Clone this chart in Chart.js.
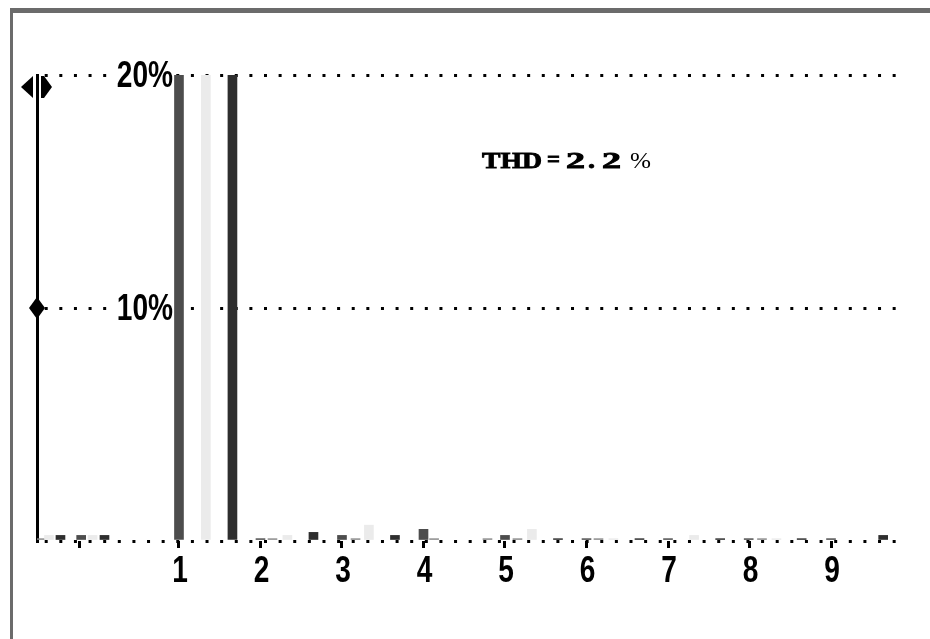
<!DOCTYPE html>
<html>
<head>
<meta charset="utf-8">
<style>
  html, body { margin: 0; padding: 0; background: #fff; }
  #wrap { position: relative; width: 930px; height: 639px; }
  canvas { display: block; }
</style>
<script src="https://cdn.jsdelivr.net/npm/chart.js@4/dist/chart.umd.min.js"></script>
</head>
<body>
<div id="wrap"><canvas id="spectrum" width="930" height="639"></canvas></div>
<script>
// Harmonic axis: tick positions (harmonic order) and their labels
const tickValues = [-0.215, 1, 2, 3, 4, 5, 6, 7, 8, 9];
const tickLabels = ['', '1', '2', '3', '4', '5', '6', '7', '8', '9'];

// Level axis: gridline values (% of fundamental) and their labels
const levelTicks = [0, 10, 20];
const levelLabels = ['', '10%', '20%'];

// Phase L1 (dark grey): position in harmonic order, level in %
const l1Pos = [-0.20, 1.00, 2.00, 3.00, 4.00, 5.00, 6.00, 7.00, 7.99, 9.00];
const l1Val = [0.24, 100, 0.10, 0.24, 0.50, 0.24, 0.10, 0.10, 0.10, 0.10];

// Phase L2 (light grey)
const l2Pos = [-0.595, -0.06, 1.33, 2.33, 3.33, 5.33, 6.33, 7.32, 8.33];
const l2Val = [0.24, 0.24, 100, 0.24, 0.68, 0.50, 0.10, 0.24, 0.10];

// Phase L3 (black)
const l3Pos = [-0.454, 0.086, 1.656, 2.65, 3.65, 5.65, 6.65, 7.64, 8.64, 9.64];
const l3Val = [0.24, 0.24, 100, 0.37, 0.24, 0.10, 0.10, 0.10, 0.10, 0.24];

// Neutral (mid grey)
const nPos = [-0.70, 2.147, 3.166, 4.13, 4.785, 5.153, 6.147, 8.153];
const nVal = [0.10, 0.10, 0.10, 0.10, 0.10, 0.10, 0.10, 0.10];

// Total harmonic distortion readout
const thdValue = '2.2';

const sansBold = 'bold 36px "Liberation Sans", Arimo, "DejaVu Sans", sans-serif';
const serifBold = 'bold 24px "Liberation Serif", "DejaVu Serif", serif';
const serifReg = '24px "Liberation Serif", "DejaVu Serif", serif';
const condense = 0.78;

function points(xs, ys) {
  return xs.map((x, i) => ({ x: x, y: ys[i] }));
}

// Frame lines around the display
const framePlugin = {
  id: 'frame',
  beforeDraw(chart) {
    const ctx = chart.ctx;
    ctx.save();
    ctx.fillStyle = '#ffffff';
    ctx.fillRect(0, 0, chart.width, chart.height);
    ctx.fillStyle = '#6b6b6b';
    ctx.fillRect(10, 8, chart.width - 10, 5);
    ctx.fillRect(10, 8, 3, chart.height - 8);
    ctx.restore();
  }
};

// Text stretched horizontally into a given width (optionally emboldened)
function fitText(ctx, text, x, baseline, width, font, heavy) {
  ctx.save();
  ctx.font = font;
  const w = ctx.measureText(text).width;
  ctx.translate(x, baseline);
  ctx.scale(width / w, 1);
  ctx.textAlign = 'left';
  ctx.textBaseline = 'alphabetic';
  ctx.fillText(text, 0, 0);
  if (heavy) {
    ctx.lineWidth = 0.9;
    ctx.strokeStyle = '#000';
    ctx.strokeText(text, 0, 0);
  }
  ctx.restore();
}

// Condensed text with a given alignment
function condensedText(ctx, text, x, baseline, align, font) {
  ctx.save();
  ctx.font = font;
  const w = ctx.measureText(text).width * condense;
  let left = x;
  if (align === 'center') left = x - w / 2;
  if (align === 'right') left = x - w;
  ctx.translate(left, baseline);
  ctx.scale(condense, 1);
  ctx.textAlign = 'left';
  ctx.textBaseline = 'alphabetic';
  ctx.fillText(text, 0, 0);
  ctx.restore();
}

// Axis labels, cursor markers and the THD readout
const overlayPlugin = {
  id: 'overlay',
  afterDraw(chart) {
    const ctx = chart.ctx;
    const area = chart.chartArea;
    const xs = chart.scales.x;
    const ys = chart.scales.y;
    const ax = area.left;
    ctx.save();
    ctx.fillStyle = '#000';

    // harmonic numbers under the tick marks
    tickValues.forEach((v, i) => {
      if (!tickLabels[i]) return;
      condensedText(ctx, tickLabels[i], xs.getPixelForValue(v) + 1, area.bottom + 41, 'center', sansBold);
    });

    // level labels, sitting on a white patch over the dotted gridline
    levelTicks.forEach((v, i) => {
      if (!levelLabels[i]) return;
      const py = ys.getPixelForValue(v);
      ctx.save();
      ctx.font = sansBold;
      const w = ctx.measureText(levelLabels[i]).width * condense;
      ctx.fillStyle = '#ffffff';
      ctx.fillRect(xs.getPixelForValue(1) - 8 - w - 2, py - 4, w + 3, 8);
      ctx.restore();
      condensedText(ctx, levelLabels[i], xs.getPixelForValue(1) - 6, py + 12, 'right', sansBold);
    });

    // range marker near the top of the axis
    const ym = ys.getPixelForValue(20) + 12;
    ctx.beginPath();
    ctx.moveTo(ax - 16, ym);
    ctx.lineTo(ax - 4, ym - 11);
    ctx.lineTo(ax - 4, ym + 11);
    ctx.closePath();
    ctx.fill();
    ctx.fillRect(ax + 4, ym - 11, 3, 22);
    ctx.beginPath();
    ctx.moveTo(ax + 7, ym - 11);
    ctx.lineTo(ax + 15, ym);
    ctx.lineTo(ax + 7, ym + 11);
    ctx.closePath();
    ctx.fill();

    // diamond marker at the 10 % level
    const yd = ys.getPixelForValue(10);
    ctx.beginPath();
    ctx.moveTo(ax, yd - 11);
    ctx.lineTo(ax + 8, yd);
    ctx.lineTo(ax, yd + 11);
    ctx.lineTo(ax - 8, yd);
    ctx.closePath();
    ctx.fill();

    // THD readout
    const base = 168;
    fitText(ctx, 'THD', 482, base, 60, serifBold, true);
    fitText(ctx, '=', 547, base - 1, 13, serifBold, true);
    const parts = thdValue.split('');
    const slots = [[566, 19], [588, 7], [602, 19]];
    parts.forEach((ch, i) => {
      const s = slots[i] || [566 + i * 20, 17];
      fitText(ctx, ch, s[0], base, s[1], serifBold, true);
    });
    fitText(ctx, '%', 630, base, 21, serifReg, false);
    ctx.restore();
  }
};

new Chart(document.getElementById('spectrum'), {
  type: 'bar',
  data: {
    datasets: [
      { label: 'L1', data: points(l1Pos, l1Val), backgroundColor: '#4d4d4d' },
      { label: 'L2', data: points(l2Pos, l2Val), backgroundColor: '#ebebeb' },
      { label: 'L3', data: points(l3Pos, l3Val), backgroundColor: '#2e2e2e' },
      { label: 'N',  data: points(nPos, nVal),  backgroundColor: '#8a8a8a' }
    ]
  },
  options: {
    responsive: false,
    animation: false,
    devicePixelRatio: 1,
    layout: { padding: { left: 37, right: 24, top: 75, bottom: 91 } },
    datasets: { bar: { barThickness: 9, grouped: false, clip: 0, borderWidth: 0 } },
    plugins: { legend: { display: false }, tooltip: { enabled: false } },
    scales: {
      x: {
        type: 'linear',
        min: -0.742,
        max: 9.92,
        offset: false,
        afterBuildTicks(scale) { scale.ticks = tickValues.map(v => ({ value: v })); },
        ticks: { display: false, autoSkip: false },
        grid: {
          display: true,
          offset: false,
          drawOnChartArea: false,
          drawTicks: true,
          tickLength: 7,
          tickWidth: 3,
          tickColor: '#000'
        },
        border: { display: false }
      },
      y: {
        min: 0,
        max: 20,
        afterBuildTicks(scale) { scale.ticks = levelTicks.map(v => ({ value: v })); },
        ticks: { display: false },
        grid: { color: '#000', lineWidth: 3, drawTicks: false },
        border: { display: true, color: '#000', width: 3, dash: [3, 11.62], dashOffset: 8.92 }
      }
    }
  },
  plugins: [framePlugin, overlayPlugin]
});
</script>
</body>
</html>
